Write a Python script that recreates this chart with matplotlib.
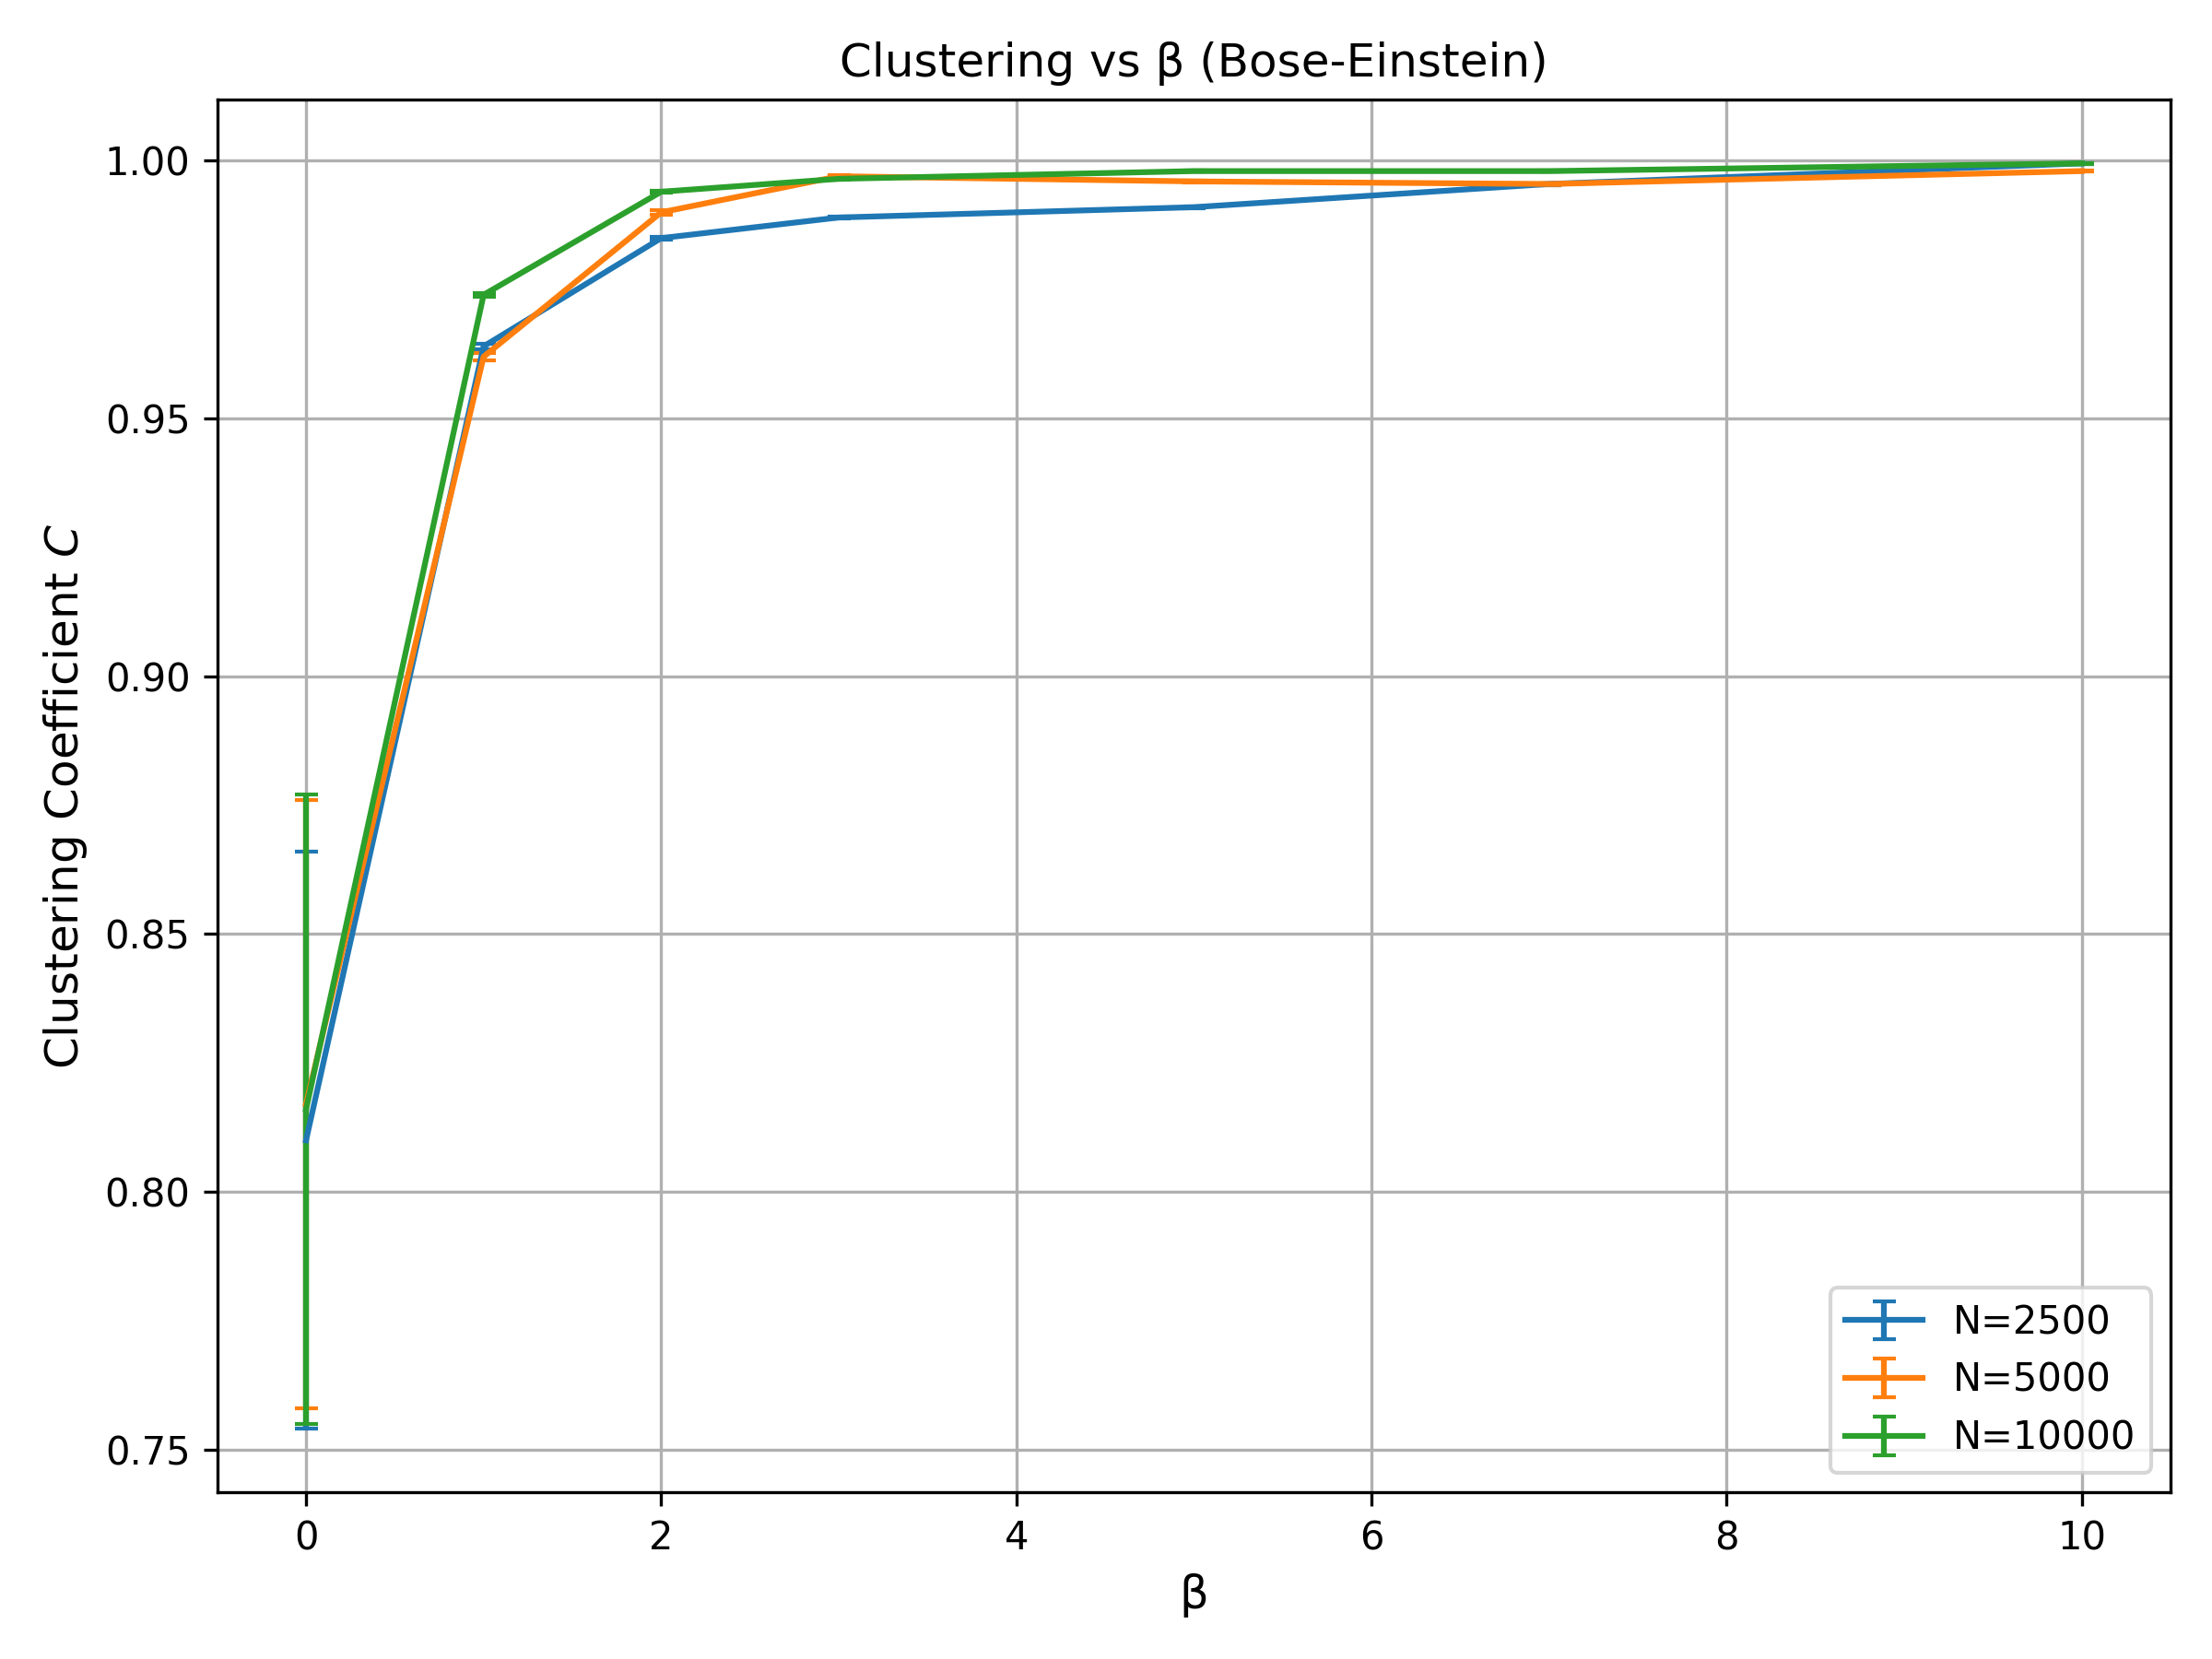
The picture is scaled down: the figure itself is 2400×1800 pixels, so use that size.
import matplotlib.pyplot as plt

beta = [0, 1, 2, 3, 5, 7, 10]

c_2500 = [0.810, 0.964, 0.985, 0.989, 0.991, 0.9955, 0.9995]
e_2500 = [0.056, 0.0005, 0.0003, 0.0002, 0.0002, 0.0002, 0.0001]
c_5000 = [0.817, 0.962, 0.990, 0.997, 0.996, 0.9955, 0.998]
e_5000 = [0.059, 0.0007, 0.0004, 0.0002, 0.0002, 0.0002, 0.0001]
c_10000 = [0.816, 0.974, 0.994, 0.9965, 0.998, 0.998, 0.9995]
e_10000 = [0.061, 0.0003, 0.0002, 0.0001, 0.0001, 0.0001, 0.0001]

fig, ax = plt.subplots(figsize=(8, 6), dpi=300)
ax.errorbar(beta, c_2500, yerr=e_2500, capsize=3, label='N=2500')
ax.errorbar(beta, c_5000, yerr=e_5000, capsize=3, label='N=5000')
ax.errorbar(beta, c_10000, yerr=e_10000, capsize=3, label='N=10000')

ax.set_xlabel('β', fontsize=12)
ax.set_ylabel('Clustering Coefficient $C$', fontsize=12)
ax.set_title('Clustering vs β (Bose-Einstein)')
ax.grid(True)
ax.legend(loc='lower right')
plt.tight_layout()
plt.savefig('out.png', dpi=300)
